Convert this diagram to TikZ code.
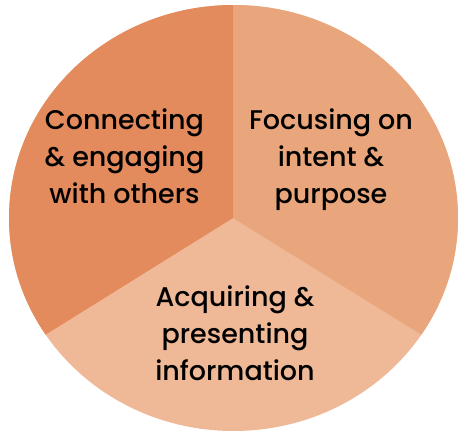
\documentclass[tikz,border=0pt]{standalone}
\usepackage{fontspec}
\setmainfont{Poppins}[UprightFont={* Medium}]
\definecolor{leftc}{HTML}{E38B5D}
\definecolor{rightc}{HTML}{E9A67C}
\definecolor{bottomc}{HTML}{EFB896}
\begin{document}
\begin{tikzpicture}[x=1pt,y=-1pt,
  lbl/.style={align=center,inner sep=0pt,anchor=north,text=black,
    font=\fontsize{27}{37}\selectfont}]
\useasboundingbox (0,0) rectangle (459,432);
\coordinate (C) at (233,218);
\begin{scope}
  \clip (233.5,218) ellipse [x radius=224.5pt, y radius=213pt];
  \fill[bottomc] (-50,-50) rectangle (520,500);
  \fill[leftc] (C) -- (233,-100) -- (-300,-100) -- (-300,452) -- (-143,452) -- cycle;
  \fill[rightc] (C) -- (233,-100) -- (700,-100) -- (700,452) -- (611,452) -- cycle;
\end{scope}
\node[lbl] (conn) at (124.5,109) {Connecting\\\& engaging\\with others};
\node[lbl] (focus) at (331,109) {Focusing on\\intent \&\\purpose};
\node[lbl] (acq) at (235,286) {Acquiring \&\\presenting\\information};
\end{tikzpicture}
\end{document}
